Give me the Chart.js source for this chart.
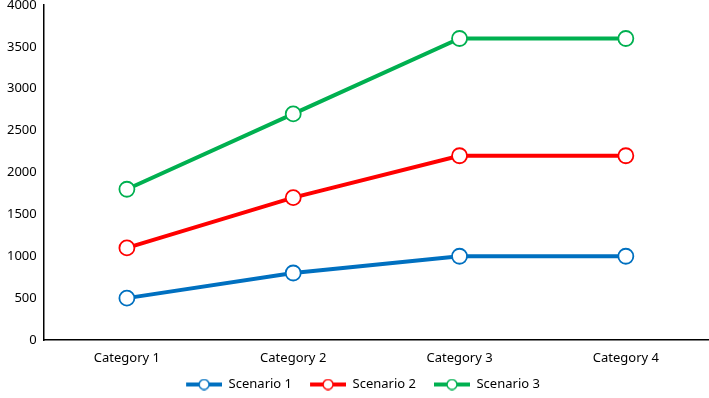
<!DOCTYPE html>
<html>
<head>
<meta charset="utf-8">
<script src="https://cdn.jsdelivr.net/npm/chart.js@4/dist/chart.umd.min.js"></script>
<style>
  html, body { margin: 0; padding: 0; background: #fff; }
  #wrap { width: 709px; height: 398px; }
</style>
</head>
<body>
<div id="wrap"><canvas id="lineChart"></canvas></div>
<script>
const categories = ["Category 1", "Category 2", "Category 3", "Category 4"];
const scenario1 = [500, 800, 1000, 1000];
const scenario2 = [1100, 1700, 2200, 2200];
const scenario3 = [1800, 2700, 3600, 3600];
const seriesNames = ["Scenario 1", "Scenario 2", "Scenario 3"];
const colors = ["#0070C0", "#FF0000", "#00B050"];

// legend marker: short thick line with hollow circle (left margin acts as item gap)
function legendMarker(color) {
    const c = document.createElement("canvas");
    c.width = 53;
    c.height = 12;
    const ctx = c.getContext("2d");
    ctx.strokeStyle = color;
    ctx.lineWidth = 4;
    ctx.beginPath();
    ctx.moveTo(17, 6);
    ctx.lineTo(53, 6);
    ctx.stroke();
    ctx.fillStyle = "#fff";
    ctx.lineWidth = 1.5;
    ctx.beginPath();
    ctx.arc(35, 6, 5, 0, Math.PI * 2);
    ctx.fill();
    ctx.stroke();
    return c;
}

function makeSet(label, data, color) {
    return {
        label: label,
        data: data,
        borderColor: color,
        backgroundColor: "#ffffff",
        borderWidth: 4,
        pointRadius: 7.5,
        pointBorderWidth: 1.8,
        pointBackgroundColor: "#ffffff",
        pointBorderColor: color,
        tension: 0,
    };
}

const font = { family: "'Noto Sans', sans-serif", size: 13 };

new Chart(document.getElementById("lineChart").getContext("2d"), {
    type: "line",
    data: {
        labels: categories,
        datasets: [
            makeSet(seriesNames[0], scenario1, colors[0]),
            makeSet(seriesNames[1], scenario2, colors[1]),
            makeSet(seriesNames[2], scenario3, colors[2]),
        ],
    },
    options: {
        responsive: true,
        maintainAspectRatio: false,
        animation: false,
        layout: { autoPadding: false, padding: { top: 5, right: 0, left: 0, bottom: -3 } },
        plugins: {
            legend: {
                position: "bottom",
                labels: {
                    usePointStyle: true,
                    pointStyleWidth: 53,
                    boxHeight: 12,
                    padding: 1,
                    color: "#000",
                    font: { family: font.family, size: 13, lineHeight: 1 },
                    generateLabels: function (chart) {
                        return chart.data.datasets.map(function (ds, i) {
                            return {
                                text: ds.label,
                                pointStyle: legendMarker(colors[i]),
                                fillStyle: colors[i],
                                strokeStyle: colors[i],
                                lineWidth: 0,
                                datasetIndex: i,
                                fontColor: "#000",
                            };
                        });
                    },
                },
            },
            tooltip: { enabled: false },
        },
        scales: {
            x: {
                offset: true,
                grid: { display: false, drawTicks: false },
                border: { display: true, color: "#000", width: 1.5 },
                ticks: {
                    color: "#000",
                    font: { family: font.family, size: 13, lineHeight: 1 },
                    padding: 12,
                },
                afterFit: function (scale) {
                    scale.paddingRight = 0;
                    scale.paddingLeft = 0;
                },
            },
            y: {
                min: 0,
                max: 4000,
                grid: { display: false, drawTicks: false },
                border: { display: true, color: "#000", width: 1.5 },
                ticks: {
                    stepSize: 500,
                    color: "#000",
                    font: font,
                    padding: 7,
                    callback: function (v) { return String(v); },
                },
                afterFit: function (scale) {
                    scale.paddingTop = 0;
                    scale.paddingBottom = 0;
                },
            },
        },
    },
});
</script>
</body>
</html>
